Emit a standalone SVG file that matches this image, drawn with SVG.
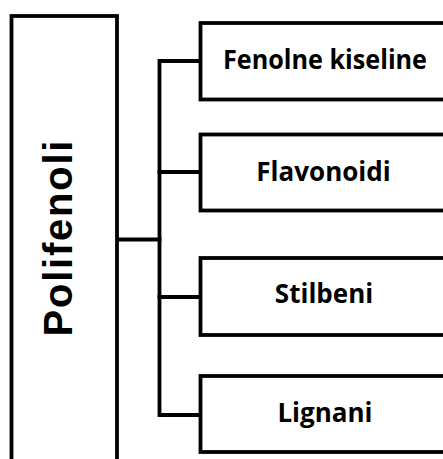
<svg xmlns="http://www.w3.org/2000/svg" width="443" height="459" viewBox="0 0 443 459">
<style>
.box{fill:#fff;stroke:#000;stroke-width:3.8}
.lbl{font-family:"Open Sans","Liberation Sans",sans-serif;font-weight:700;font-size:26px;fill:#000;text-anchor:middle}
.root{font-family:"Liberation Sans",Arial,sans-serif;font-weight:700;font-size:40px;fill:#000;text-anchor:middle}
.conn{fill:none;stroke:#000;stroke-width:3.8;stroke-linejoin:miter;stroke-linecap:square}
</style>
<rect width="443" height="459" fill="#fff"/>
<g id="connectors">
<path class="conn" d="M117 239.5 H159.5"/>
<path class="conn" d="M200 61 H159.5 V415 H200"/>
<path class="conn" d="M159.5 172 H200"/>
<path class="conn" d="M159.5 297 H200"/>
</g>
<g id="polifenoli">
<rect class="box" x="11.5" y="16" width="105.5" height="470"/>
<text class="root" transform="translate(72 238.5) rotate(-90)" textLength="196" lengthAdjust="spacing">Polifenoli</text>
</g>
<g id="fenolne-kiseline">
<rect class="box" x="200.5" y="23" width="260" height="76.5"/>
<text class="lbl" x="325" y="68.5" textLength="204" lengthAdjust="spacingAndGlyphs">Fenolne kiseline</text>
</g>
<g id="flavonoidi">
<rect class="box" x="200.5" y="134.5" width="260" height="76"/>
<text class="lbl" x="323.5" y="181">Flavonoidi</text>
</g>
<g id="stilbeni">
<rect class="box" x="200.5" y="258" width="260" height="77"/>
<text class="lbl" x="324" y="302.5">Stilbeni</text>
</g>
<g id="lignani">
<rect class="box" x="200.5" y="376" width="260" height="76"/>
<text class="lbl" x="325" y="422">Lignani</text>
</g>
</svg>
